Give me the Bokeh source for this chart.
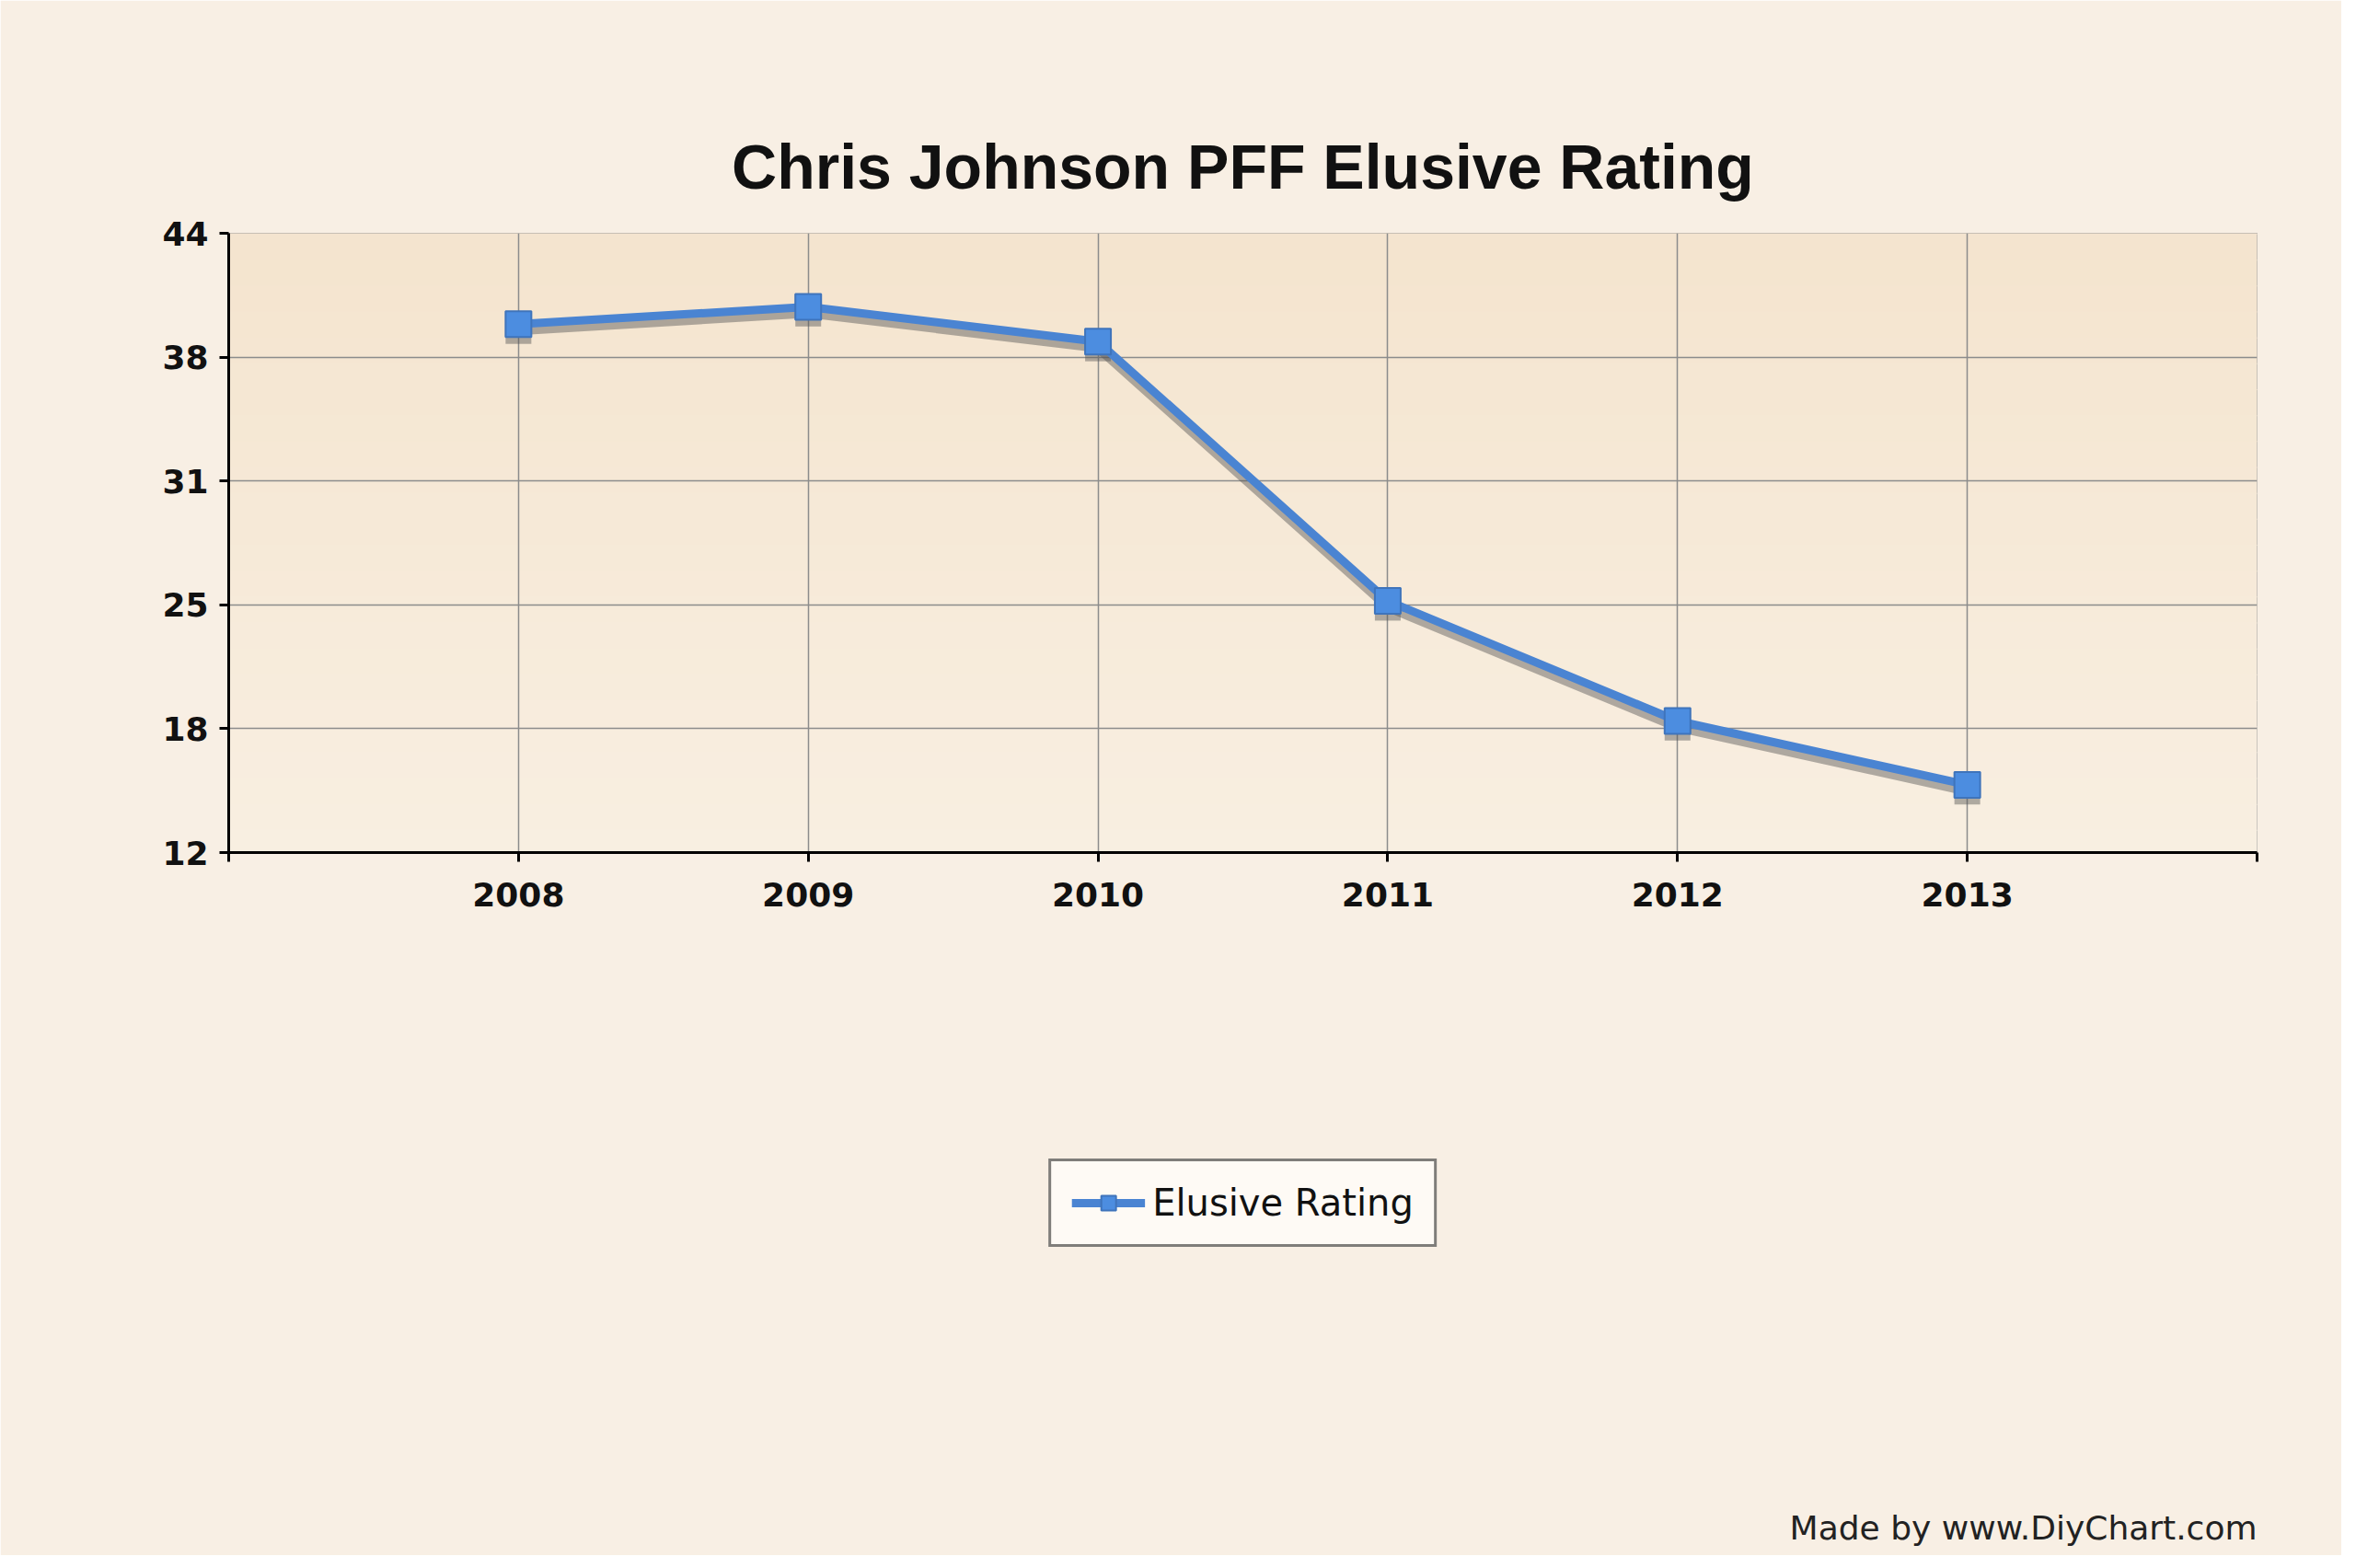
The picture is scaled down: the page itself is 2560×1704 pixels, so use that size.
import numpy as np
from bokeh.plotting import figure
from bokeh.models import (FixedTicker, Legend, LegendItem, BoxAnnotation, Title)
from bokeh.embed import file_html
from bokeh.resources import INLINE

years = [2008, 2009, 2010, 2011, 2012, 2013]
ratings = [39.3, 40.2, 38.4, 25.0, 18.8, 15.5]
y_ticks = [12, 18.4, 24.8, 31.2, 37.6, 44]
y_labels = ["12", "18", "25", "31", "38", "44"]
x_ticks = [2007, 2008, 2009, 2010, 2011, 2012, 2013, 2014]
x_labels = ["", "2008", "2009", "2010", "2011", "2012", "2013", ""]

W, H = 2544, 1690
p = figure(width=W, height=H, x_range=(2007, 2014), y_range=(12, 44),
           output_backend="svg", toolbar_location=None,
           min_border_left=248, min_border_right=92, min_border_top=253,
           min_border_bottom=439)

# gradient background bands (inside frame)
n = 60
top_c = np.array([0xf3, 0xe1, 0xc8]); bot_c = np.array([0xfe, 0xfb, 0xf7])
for i in range(n):
    t = i / (n - 1)
    c = (top_c * (1 - t) + bot_c * t).astype(int)
    p.add_layout(BoxAnnotation(left=0, right=W, top=i * H / n, bottom=(i + 1) * H / n + 1,
                               left_units="canvas", right_units="canvas",
                               top_units="canvas", bottom_units="canvas",
                               fill_color="#%02x%02x%02x" % tuple(c), fill_alpha=1,
                               line_color=None, level="image"))
p.border_fill_color = "#f8efe4"
p.background_fill_alpha = 0
p.outline_line_color = "#9a9a9a"

p.title.text = "Chris Johnson PFF Elusive Rating"
p.title.align = "center"
p.title.text_font = "Liberation Sans"
p.title.text_font_size = "68px"
p.title.text_font_style = "bold"
p.title.text_color = "#111111"
p.title.standoff = 70

for ax in (p.xaxis[0], p.yaxis[0]):
    ax.axis_line_color = "black"
    ax.axis_line_width = 3
    ax.major_tick_line_color = "black"
    ax.major_tick_line_width = 3
    ax.major_tick_out = 10
    ax.major_tick_in = 0
    ax.minor_tick_line_color = None
    ax.major_label_text_font = "DejaVu Sans"
    ax.major_label_text_font_style = "bold"
    ax.major_label_text_font_size = "36px"
    ax.major_label_text_color = "#111111"
p.xaxis.ticker = FixedTicker(ticks=x_ticks)
p.xaxis.major_label_overrides = {x: l for x, l in zip(x_ticks, x_labels)}
p.yaxis.ticker = FixedTicker(ticks=y_ticks)
p.yaxis.major_label_overrides = {y: l for y, l in zip(y_ticks, y_labels)}
p.xaxis.major_label_standoff = 22
p.yaxis.major_label_standoff = 12
p.grid.grid_line_color = "#8c8c8c"
p.grid.grid_line_width = 1.5

shadow_y = [v - 0.35 for v in ratings]
p.line(years, shadow_y, line_color="#555555", line_alpha=0.45, line_width=9)
p.scatter(years, shadow_y, marker="square", size=28, fill_color="#555555",
          fill_alpha=0.45, line_color=None)
r1 = p.line(years, ratings, line_color="#4a84d2", line_width=9)
r2 = p.scatter(years, ratings, marker="square", size=28, fill_color="#4c8de0",
               line_color="#3f74bb", line_width=2)

leg = Legend(items=[LegendItem(label="Elusive Rating", renderers=[r1, r2])],
             location="center", orientation="horizontal",
             border_line_color="black", border_line_width=3,
             background_fill_color="#fefaf5", background_fill_alpha=1,
             label_text_font="DejaVu Sans", label_text_font_size="40px",
             label_text_color="#111111", glyph_width=80, glyph_height=40,
             padding=22, margin=45, label_standoff=8)
p.add_layout(leg, "below")

foot = Title(text="Made by www.DiyChart.com", align="right",
             text_font="DejaVu Sans", text_font_size="36px",
             text_font_style="normal", text_color="#222222", standoff=20)
p.add_layout(foot, "below")

open("out.html", "w").write(file_html(p, INLINE))
